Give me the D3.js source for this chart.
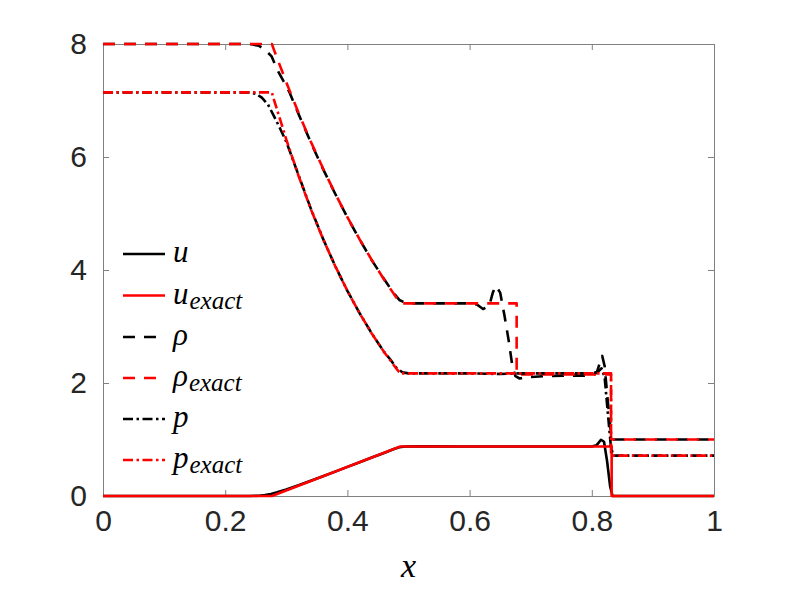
<!DOCTYPE html>
<html><head><meta charset="utf-8">
<script src="https://cdn.jsdelivr.net/npm/d3@7/dist/d3.min.js"></script>
<style>body{margin:0;background:#fff}svg{display:block}</style>
</head><body><div id="chart"></div>
<script>
// numerical solution (black)
const uNum = [[0,0],[0.24,0],[0.255,0.005],[0.265,0.015],[0.275,0.035],[0.285,0.065],[0.30,0.115],[0.32,0.19],[0.34,0.27],[0.36,0.35],[0.38,0.432],[0.40,0.515],[0.42,0.598],[0.44,0.68],[0.46,0.762],[0.475,0.826],[0.485,0.862],[0.495,0.876],[0.52,0.878],[0.60,0.876],[0.70,0.877],[0.80,0.877],[0.808,0.9],[0.815,0.995],[0.82,0.96],[0.825,0.62],[0.83,0.17],[0.834,0.0],[1,0]];
const rhoNum = [[0,8],[0.24,8],[0.255,7.97],[0.265,7.9],[0.276,7.78],[0.285,7.55],[0.295,7.35],[0.305,7.15],[0.32,6.76],[0.34,6.26],[0.36,5.79],[0.38,5.35],[0.40,4.93],[0.42,4.54],[0.44,4.17],[0.46,3.84],[0.475,3.6],[0.485,3.47],[0.495,3.42],[0.51,3.41],[0.60,3.41],[0.612,3.39],[0.622,3.31],[0.632,3.36],[0.638,3.6],[0.643,3.72],[0.65,3.6],[0.657,3.2],[0.664,2.75],[0.67,2.3],[0.675,2.12],[0.682,2.08],[0.69,2.1],[0.72,2.12],[0.76,2.13],[0.80,2.13],[0.808,2.18],[0.813,2.35],[0.817,2.48],[0.821,2.3],[0.826,1.7],[0.831,1.15],[0.836,1.0],[1,1.0]];
const pNum = [[0,7.143],[0.24,7.143],[0.25,7.12],[0.26,7.05],[0.27,6.93],[0.28,6.72],[0.29,6.5],[0.30,6.27],[0.32,5.68],[0.34,5.09],[0.36,4.555],[0.38,4.07],[0.40,3.63],[0.42,3.235],[0.44,2.875],[0.46,2.55],[0.47,2.42],[0.48,2.27],[0.49,2.19],[0.50,2.17],[0.60,2.17],[0.65,2.16],[0.68,2.17],[0.75,2.17],[0.80,2.17],[0.81,2.2],[0.816,2.26],[0.821,2.1],[0.826,1.5],[0.831,0.9],[0.835,0.714],[1,0.714]];
// exact solution (red)
const uExact = [[0,0],[0.2764,0],[0.4866,0.876],[0.8325,0.876],[0.8325,0],[1,0]];
const rhoExact = [[0,8],[0.2764,8],[0.28,7.892],[0.30,7.322],[0.32,6.782],[0.34,6.274],[0.36,5.800],[0.38,5.353],[0.40,4.934],[0.42,4.542],[0.44,4.175],[0.46,3.832],[0.48,3.513],[0.4866,3.41],[0.677,3.41],[0.677,2.15],[0.8315,2.15],[0.8315,1.0],[1,1.0]];
const pExact = [[0,7.143],[0.2764,7.143],[0.28,7.008],[0.30,6.310],[0.32,5.668],[0.34,5.083],[0.36,4.553],[0.38,4.070],[0.40,3.631],[0.42,3.234],[0.44,2.874],[0.46,2.549],[0.48,2.257],[0.4866,2.17],[0.8315,2.17],[0.8315,0.714],[1,0.714]];
const xTicks = [0,0.2,0.4,0.6,0.8,1];
const xTickLabels = ["0","0.2","0.4","0.6","0.8","1"];
const yTicks = [0,2,4,6,8];
const yTickLabels = ["0","2","4","6","8"];
const legendNames = [["u",""],["u","exact"],["ρ",""],["ρ","exact"],["p",""],["p","exact"]];

const W=789,H=592;
const L=103,R=714,T=44,B=496;
const x=d3.scaleLinear().domain([0,1]).range([L,R]);
const y=d3.scaleLinear().domain([0,8]).range([B,T]);
const svg=d3.select("#chart").append("svg").attr("width",W).attr("height",H);
svg.append("rect").attr("width",W).attr("height",H).attr("fill","#fff");
svg.append("defs").append("clipPath").attr("id","clip").append("rect")
  .attr("x",L).attr("y",T-3).attr("width",R-L+3).attr("height",B-T+6);

const axisColor="#808080";
const gx=svg.append("g").attr("transform",`translate(0,${B})`)
  .call(d3.axisBottom(x).tickValues(xTicks).tickSize(-6).tickFormat((d,i)=>xTickLabels[i]).tickPadding(14));
const gxt=svg.append("g").attr("transform",`translate(0,${T})`)
  .call(d3.axisTop(x).tickValues(xTicks).tickSize(-6).tickFormat(""));
const gy=svg.append("g").attr("transform",`translate(${L},0)`)
  .call(d3.axisLeft(y).tickValues(yTicks).tickSize(-6).tickFormat((d,i)=>yTickLabels[i]).tickPadding(16));
const gyr=svg.append("g").attr("transform",`translate(${R},0)`)
  .call(d3.axisRight(y).tickValues(yTicks).tickSize(-6).tickFormat(""));
[gx,gxt,gy,gyr].forEach(g=>{
  g.selectAll("path,line").attr("stroke",axisColor).attr("stroke-width",1);
  g.selectAll("text").attr("fill","#262626").attr("font-family","'Liberation Sans',Arial,sans-serif").attr("font-size",30);
});
gx.selectAll(".tick text").attr("dy","0.71em");

const line=d3.line().x(d=>x(d[0])).y(d=>y(d[1]));
const series=[
  {data:uNum,color:"#000",dash:null},
  {data:uExact,color:"#ff0000",dash:null},
  {data:rhoNum,color:"#000",dash:"12,9"},
  {data:rhoExact,color:"#ff0000",dash:"12,9"},
  {data:pNum,color:"#000",dash:"10,3.5,2.5,3.5"},
  {data:pExact,color:"#ff0000",dash:"10,3.5,2.5,3.5"}
];
const pg=svg.append("g").attr("clip-path","url(#clip)");
series.forEach(s=>{
  pg.append("path").datum(s.data).attr("d",line).attr("fill","none")
    .attr("stroke",s.color).attr("stroke-width",2.6)
    .attr("stroke-dasharray",s.dash).attr("stroke-linejoin","round");
});

// legend
const lg=svg.append("g");
const rowY=[254,295.5,337,378,419,460];
series.forEach((s,i)=>{
  lg.append("line").attr("x1",123).attr("x2",165).attr("y1",rowY[i]).attr("y2",rowY[i])
    .attr("stroke",s.color).attr("stroke-width",2.6).attr("stroke-dasharray",s.dash);
  const t=lg.append("text").attr("x",173).attr("y",rowY[i]+8)
    .attr("font-family","'Liberation Serif','Times New Roman',serif").attr("font-style","italic")
    .attr("font-size",31).attr("fill","#000");
  t.append("tspan").text(legendNames[i][0]);
  if(legendNames[i][1]) t.append("tspan").attr("font-size",25).attr("dy",5).attr("dx",1).text(legendNames[i][1]);
});

// x label
svg.append("text").attr("x",(L+R)/2).attr("y",577).attr("text-anchor","middle")
  .attr("font-family","'Liberation Serif','Times New Roman',serif").attr("font-style","italic")
  .attr("font-size",34).attr("fill","#000").text("x");
</script></body></html>
